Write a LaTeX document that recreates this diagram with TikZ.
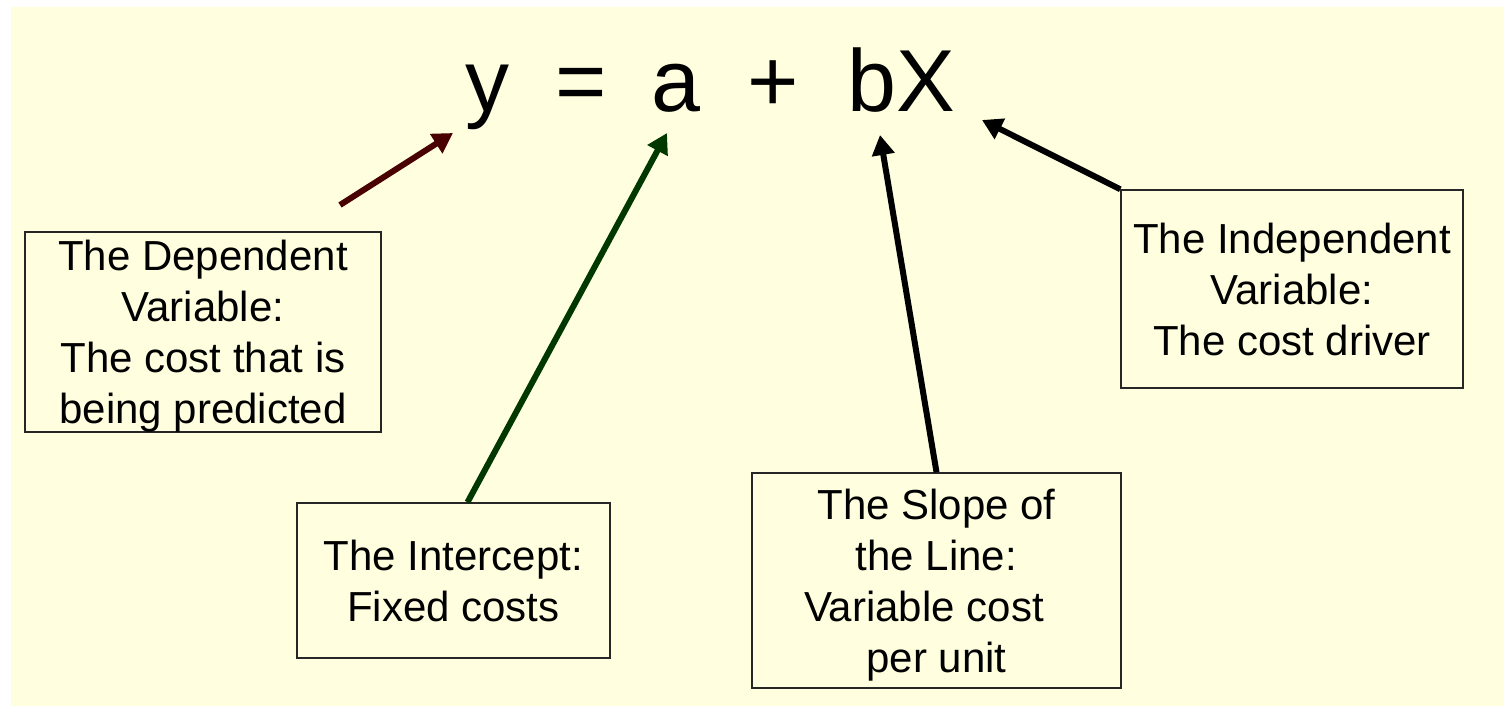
\documentclass[tikz,border=0pt]{standalone}
\usepackage{fontspec}
\setmainfont{Liberation Sans}
\usepackage{tikz}
\usetikzlibrary{calc, arrows.meta}
\definecolor{paper}{RGB}{255,255,224}
\definecolor{darkred}{RGB}{72,0,0}
\definecolor{darkgreen}{RGB}{0,56,0}
\begin{document}
\begin{tikzpicture}[x=0.5pt, y=-0.5pt,
    term/.style={anchor=base, inner sep=0pt, font=\fontsize{44}{50}\selectfont},
    box/.style={draw=black!85, line width=0.75pt, fill=paper, align=center, inner sep=0pt,
        text depth=0pt, font=\fontsize{21}{25.5}\selectfont},
    pointer/.style={line width=3pt, -{Triangle[length=10pt, width=11pt]}}]
            \fill[white] (0,0) rectangle (1504,706);
            \useasboundingbox (0,0) rectangle (1504,706);
            \fill[paper] (11,7) rectangle (1504,706);
            \node[term] (y) at (487,112) {y};
            \node[term] (eq) at (581,112) {=};
            \node[term] (a) at (676,112) {a};
            \node[term] (plus) at (773,112) {+};
            \node[term] (bX) at (901,112) {bX};
            \node[box, minimum width=178pt, minimum height=100pt] (dependent) at (203,332)
                {The Dependent\\ Variable:\\ The cost that is\\ being predicted};
            \node[box, minimum width=156.5pt, minimum height=77.5pt] (intercept) at (453.5,580.5)
                {The Intercept:\\ Fixed costs};
            \node[box, minimum width=184.5pt, minimum height=107.5pt] (slope) at (936.5,580.5)
                {The Slope of\\ the Line:\\ \mbox{Variable cost\hspace{0.6em}}\\ per unit};
            \node[box, minimum width=171pt, minimum height=99pt] (independent) at (1292,289)
                {The Independent\\ Variable:\\ The cost driver};
            \coordinate (ytail) at (340,205);
            \coordinate (ytip) at (453,133);
            \coordinate (atail) at ($(intercept.north)+(14,0)$);
            \coordinate (atip) at (667,133);
            \coordinate (btip) at (880,135);
            \coordinate (Xtip) at (982,120);
            \draw[pointer, darkred] (ytail) -- (ytip);
            \draw[pointer, darkgreen] (atail) -- (atip);
            \draw[pointer, black] (slope.north) -- (btip);
            \draw[pointer, black] (independent.north west) -- (Xtip);
        \end{tikzpicture}
\end{document}
